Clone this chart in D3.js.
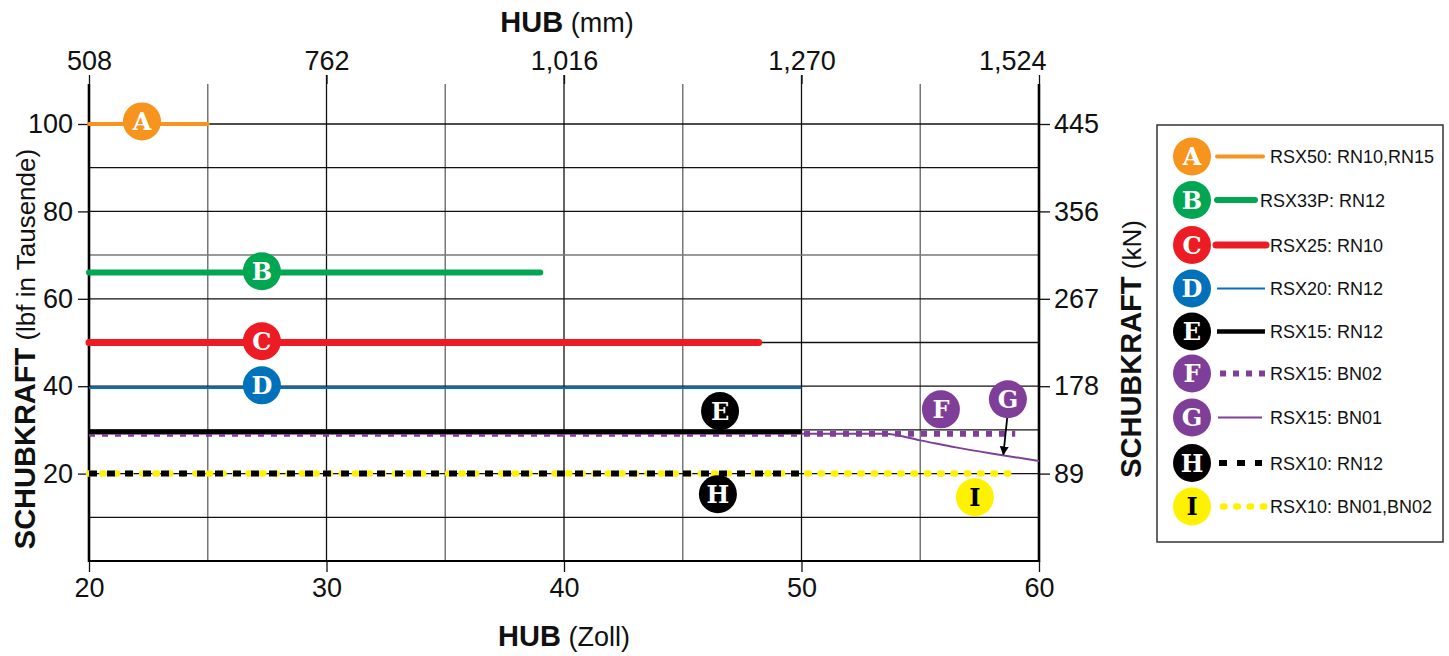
<!DOCTYPE html>
<html><head><meta charset="utf-8">
<script src="https://cdn.jsdelivr.net/npm/d3@7"></script>
<style>
body{margin:0;background:#fff;}
svg{display:block;}
</style></head><body>
<svg id="c" width="1449" height="656"></svg>
<script>
// ---- data ----
const letters = ["A","B","C","D","E","F","G","H","I"];
const legendLabels = ["RSX50: RN10,RN15","RSX33P: RN12","RSX25: RN10","RSX20: RN12","RSX15: RN12","RSX15: BN02","RSX15: BN01","RSX10: RN12","RSX10: BN01,BN02"];
const startStroke = [20,20,20,20,20,20,20,20,20];     // Zoll
const endStroke   = [25,39,48.2,50,50,59,60,50,59];    // Zoll
const thrust      = [100,66,50,39.6,29.6,29.1,29.1,20,20]; // lbf x1000
const gStroke = [20,53.5,55,56.5,58,60];
const gThrust = [29.1,29.1,27.6,26.0,24.6,22.9];
const labelStroke = [22.23,27.28,27.28,27.28,46.57,55.87,58.69,46.48,57.3];
const labelThrust = [100.6,66.3,50.3,40.2,34.3,34.7,37.0,15.3,14.6];
const zollTicks = [20,30,40,50,60];
const mmTicks = [508,762,1016,1270,1524];
const lbfTicks = [20,40,60,80,100];
const kNTicks = [89,178,267,356,445];

// ---- styles ----
const colors = ["#f7941d","#00a651","#ed1c24","#0072bc","#000000","#7f3f98","#7f3f98","#000000","#fff200"];
const widths = [4,6,7,2.2,4.5,6,2,6,6.5];
const dashes = [null,null,null,null,null,"6,7",null,"8,10","1.5,11.8"];
const caps   = ["round","round","round","butt","butt","butt","butt","butt","round"];
const letterColors = ["#fff","#fff","#fff","#fff","#fff","#fff","#fff","#fff","#000"];
const legendLine = [[1217,1263],[1217,1255],[1216,1266],[1217,1265],[1217,1265],[1220,1265],[1218,1262],[1219,1262],[1223,1268]];
const legendTextX = [1270,1260,1270,1270,1270,1270,1270,1270,1270];
const legendY = [156.5,200,245,288.5,331.5,373.5,417.5,463,506.5];

const svg = d3.select("#c");
const x = d3.scaleLinear().domain([20,60]).range([89,1039]);
const y = d3.scaleLinear().domain([0,100]).range([561,124]);
const xmm = d3.scaleLinear().domain([508,1524]).range([89,1039]);
const ykN = d3.scaleLinear().domain([0,445]).range([561,124]);
const yTop = 84, yBottom = 561;

const narrow = '"Liberation Sans Narrow","Arial Narrow","Liberation Sans",Arial,sans-serif';
const bold = '"Liberation Sans","DejaVu Sans",Arial,sans-serif';

// grid
const g = svg.append("g");
[25,35,45,55].forEach(v=>{
  g.append("line").attr("x1",x(v)).attr("x2",x(v)).attr("y1",yTop).attr("y2",yBottom).attr("stroke","#777").attr("stroke-width",1.5);
});
[30,40,50].forEach(v=>{
  g.append("line").attr("x1",x(v)).attr("x2",x(v)).attr("y1",yTop-9).attr("y2",yBottom).attr("stroke","#111").attr("stroke-width",1.3);
});
[10,30,50,90].forEach(v=>{
  g.append("line").attr("x1",x(20)).attr("x2",x(60)).attr("y1",y(v)).attr("y2",y(v)).attr("stroke","#111").attr("stroke-width",1.3);
});
g.append("line").attr("x1",x(20)).attr("x2",x(60)).attr("y1",y(70)).attr("y2",y(70)).attr("stroke","#777").attr("stroke-width",1.5);
lbfTicks.forEach(v=>{
  g.append("line").attr("x1",x(20)).attr("x2",x(60)).attr("y1",y(v)).attr("y2",y(v)).attr("stroke","#111").attr("stroke-width",1.3);
});

// axes
function styleAxis(sel, fs){
  sel.select(".domain").remove();
  sel.selectAll(".tick line").attr("stroke","#111").attr("stroke-width",1.3);
  sel.selectAll(".tick text").attr("font-family",narrow).attr("font-size",fs).attr("fill","#111");
}
svg.append("g").attr("transform",`translate(0,${yBottom})`)
  .call(d3.axisBottom(x).tickValues(zollTicks).tickFormat(d3.format("d")).tickSize(11).tickPadding(6))
  .call(s=>styleAxis(s,27));
const topAx = svg.append("g").attr("transform",`translate(0,${yTop})`)
  .call(d3.axisTop(xmm).tickValues(mmTicks).tickFormat(d3.format(",")).tickSize(9).tickPadding(5))
  .call(s=>styleAxis(s,27));
topAx.selectAll(".tick text").filter(d=>d===1524).attr("text-anchor","end").attr("dx",7);
svg.append("g").attr("transform",`translate(${x(20)},0)`)
  .call(d3.axisLeft(y).tickValues(lbfTicks).tickSize(11).tickPadding(5))
  .call(s=>styleAxis(s,27));
svg.append("g").attr("transform",`translate(${x(60)},0)`)
  .call(d3.axisRight(ykN).tickValues(kNTicks).tickSize(11).tickPadding(4))
  .call(s=>styleAxis(s,27));

// axis frame lines
svg.append("line").attr("x1",x(20)).attr("x2",x(20)).attr("y1",yTop).attr("y2",yBottom+1).attr("stroke","#000").attr("stroke-width",2.6);
svg.append("line").attr("x1",x(60)).attr("x2",x(60)).attr("y1",yTop).attr("y2",yBottom+1).attr("stroke","#000").attr("stroke-width",2.6);
svg.append("line").attr("x1",x(20)-1).attr("x2",x(60)+1).attr("y1",yBottom).attr("y2",yBottom).attr("stroke","#000").attr("stroke-width",2.2);

// series lines
const order = [8,7,6,5,4,3,2,1,0];
const line = d3.line().x(d=>x(d[0])).y(d=>y(d[1]));
const curve = d3.line().curve(d3.curveMonotoneX).x(d=>x(d[0])).y(d=>y(d[1]));
order.forEach(i=>{
  let pts;
  if (letters[i]==="G") pts = gStroke.map((s,k)=>[s,gThrust[k]]);
  else pts = [[startStroke[i],thrust[i]],[endStroke[i],thrust[i]]];
  const p = svg.append("path").attr("d", letters[i]==="G" ? curve(pts) : line(pts))
    .attr("fill","none").attr("stroke",colors[i]).attr("stroke-width",widths[i]).attr("stroke-linecap",caps[i]);
  if (dashes[i]) p.attr("stroke-dasharray",dashes[i]);
});

// arrow for G
svg.append("defs").append("marker").attr("id","arr").attr("viewBox","0 0 10 10").attr("refX",9).attr("refY",5)
  .attr("markerWidth",5).attr("markerHeight",5).attr("orient","auto")
  .append("path").attr("d","M0,0 L10,5 L0,10 Z").attr("fill","#000");
svg.append("line").attr("x1",x(58.69)).attr("y1",y(34.3)).attr("x2",x(58.5)).attr("y2",y(24.6)+1)
  .attr("stroke","#000").attr("stroke-width",1.8).attr("marker-end","url(#arr)");

// label badges
function badge(cx, cy, i){
  const gg = svg.append("g");
  gg.append("circle").attr("cx",cx).attr("cy",cy).attr("r",19).attr("fill",colors[i]);
  gg.append("text").attr("x",cx).attr("y",cy+8.5).attr("text-anchor","middle")
    .attr("font-family",'"DejaVu Serif","Liberation Serif",serif').attr("font-weight","bold").attr("font-size",24)
    .attr("fill",letterColors[i]).text(letters[i]);
}
letters.forEach((l,i)=>badge(x(labelStroke[i]), y(labelThrust[i]), i));

// titles
const tTop = svg.append("text").attr("x",567).attr("y",32).attr("text-anchor","middle").attr("fill","#111");
tTop.append("tspan").attr("font-family",bold).attr("font-weight","900").attr("font-size",29).text("HUB");
tTop.append("tspan").attr("font-family",narrow).attr("font-size",27).text(" (mm)");
const tBot = svg.append("text").attr("x",564).attr("y",646).attr("text-anchor","middle").attr("fill","#111");
tBot.append("tspan").attr("font-family",bold).attr("font-weight","900").attr("font-size",29).text("HUB");
tBot.append("tspan").attr("font-family",narrow).attr("font-size",27).text(" (Zoll)");
const tL = svg.append("text").attr("transform","translate(35,349) rotate(-90)").attr("text-anchor","middle").attr("fill","#111");
tL.append("tspan").attr("font-family",bold).attr("font-weight","900").attr("font-size",29).text("SCHUBKRAFT");
tL.append("tspan").attr("font-family",narrow).attr("font-size",26).text(" (lbf in Tausende)");
const tR = svg.append("text").attr("transform","translate(1141,349) rotate(-90)").attr("text-anchor","middle").attr("fill","#111");
tR.append("tspan").attr("font-family",bold).attr("font-weight","900").attr("font-size",29).text("SCHUBKRAFT");
tR.append("tspan").attr("font-family",narrow).attr("font-size",26).text(" (kN)");

// legend
svg.append("rect").attr("x",1157).attr("y",125).attr("width",286).attr("height",417)
  .attr("fill","#fff").attr("stroke","#333").attr("stroke-width",1.5);
letters.forEach((l,i)=>{
  const cy = legendY[i];
  badge(1192, cy, i);
  const ln = svg.append("line").attr("x1",legendLine[i][0]).attr("x2",legendLine[i][1]).attr("y1",cy).attr("y2",cy)
    .attr("stroke",colors[i]).attr("stroke-width",Math.max(widths[i],2)).attr("stroke-linecap",caps[i]);
  if (dashes[i]) ln.attr("stroke-dasharray",dashes[i]);
  svg.append("text").attr("x",legendTextX[i]).attr("y",cy+6.5).attr("font-family",narrow).attr("font-size",18)
    .attr("fill","#111").text(legendLabels[i]);
});
</script></body></html>
